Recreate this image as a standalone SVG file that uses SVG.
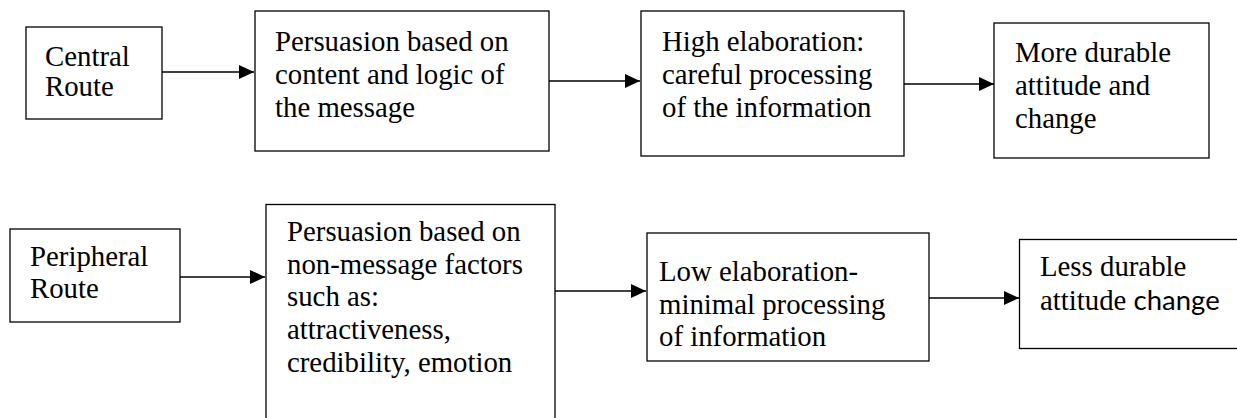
<svg xmlns="http://www.w3.org/2000/svg" width="1237" height="418" viewBox="0 0 1237 418">
  <style>
    .box { fill: #ffffff; stroke: #000000; stroke-width: 1.3; }
    .lbl { font-family: 'Liberation Serif', 'Times New Roman', serif; font-size: 28.8px; fill: #000000; }
    .sans { font-family: Lato, 'Liberation Sans', sans-serif; }
    .link { stroke: #000000; stroke-width: 1.3; fill: none; marker-end: url(#head); }
  </style>
  <defs>
    <marker id="head" viewBox="0 0 15 14" refX="15" refY="7" markerWidth="15" markerHeight="14" markerUnits="userSpaceOnUse" orient="auto">
      <path d="M0,0 L15,7 L0,14 z" fill="#000000"/>
    </marker>
  </defs>

  <rect width="1237" height="418" fill="#ffffff"/>

  <!-- central route chain -->
  <g id="central-route">
    <rect class="box" x="26" y="27" width="136" height="92"/>
    <text class="lbl" x="45" y="66">Central</text>
    <text class="lbl" x="45" y="96">Route</text>
  </g>
  <g id="content-logic">
    <rect class="box" x="255" y="11" width="294" height="140"/>
    <text class="lbl" x="275" y="51">Persuasion based on</text>
    <text class="lbl" x="275" y="84">content and logic of</text>
    <text class="lbl" x="275" y="117">the message</text>
  </g>
  <g id="high-elaboration">
    <rect class="box" x="641" y="11" width="263" height="145"/>
    <text class="lbl" x="662" y="51">High elaboration:</text>
    <text class="lbl" x="662" y="84">careful processing</text>
    <text class="lbl" x="662" y="117">of the information</text>
  </g>
  <g id="durable-change">
    <rect class="box" x="994" y="23" width="215" height="135"/>
    <text class="lbl" x="1015" y="62">More durable</text>
    <text class="lbl" x="1015" y="95">attitude and</text>
    <text class="lbl" x="1015" y="128">change</text>
  </g>

  <!-- peripheral route chain -->
  <g id="peripheral-route">
    <rect class="box" x="10" y="229" width="170" height="93"/>
    <text class="lbl" x="30" y="266">Peripheral</text>
    <text class="lbl" x="30" y="298">Route</text>
  </g>
  <g id="non-message">
    <rect class="box" x="266" y="204.5" width="289" height="230"/>
    <text class="lbl" x="287" y="241">Persuasion based on</text>
    <text class="lbl" x="287" y="273.5">non-message factors</text>
    <text class="lbl" x="287" y="306">such as:</text>
    <text class="lbl" x="287" y="339">attractiveness,</text>
    <text class="lbl" x="287" y="371.5">credibility, emotion</text>
  </g>
  <g id="low-elaboration">
    <rect class="box" x="647" y="233" width="282" height="128"/>
    <text class="lbl" x="659" y="281">Low elaboration-</text>
    <text class="lbl" x="659" y="313.5">minimal processing</text>
    <text class="lbl" x="659" y="346">of information</text>
  </g>
  <g id="less-durable">
    <rect class="box" x="1019.5" y="239.5" width="240" height="109"/>
    <text class="lbl" x="1040" y="276">Less durable</text>
    <text class="lbl" x="1040" y="310">attitude <tspan class="sans" font-size="27.5">change</tspan></text>
  </g>

  <!-- connectors -->
  <g id="connectors">
    <line class="link" x1="162" y1="72" x2="254" y2="72"/>
    <line class="link" x1="549" y1="81" x2="640" y2="81"/>
    <line class="link" x1="904" y1="84" x2="994" y2="84"/>
    <line class="link" x1="180" y1="277" x2="265" y2="277"/>
    <line class="link" x1="555" y1="291" x2="646" y2="291"/>
    <line class="link" x1="929" y1="298" x2="1019" y2="298"/>
  </g>
</svg>
